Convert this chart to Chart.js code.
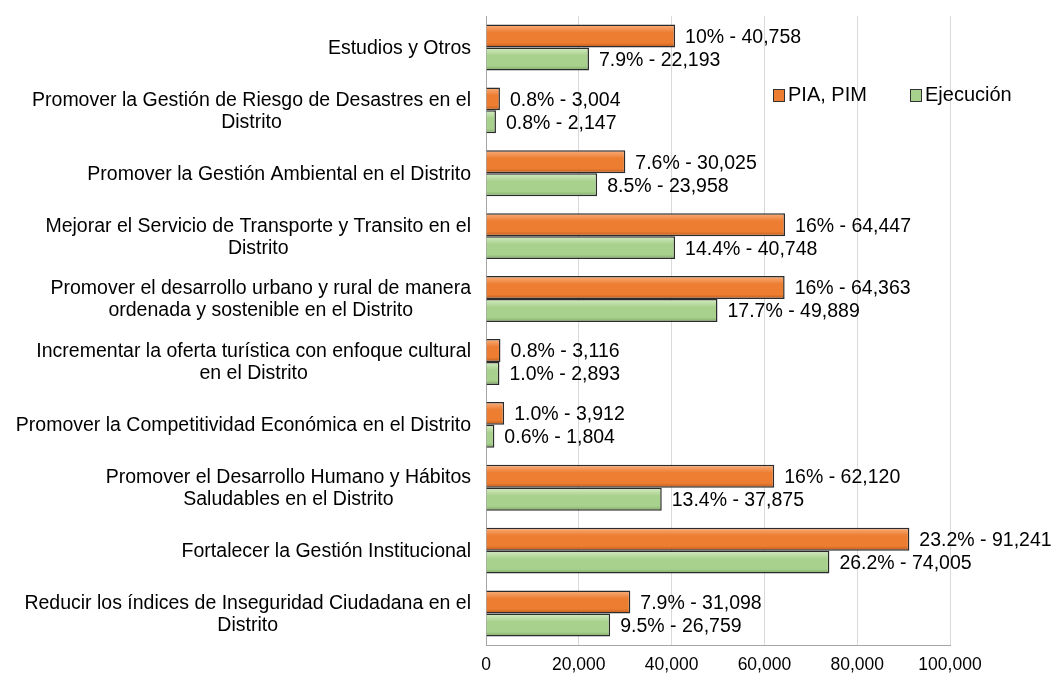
<!DOCTYPE html>
<html>
<head>
<meta charset="utf-8">
<script src="https://cdn.jsdelivr.net/npm/chart.js@4.4.1/dist/chart.umd.min.js"></script>
<style>
  body { margin: 0; background: #fff; }
  #wrap { width: 1052px; height: 675px; }
</style>
</head>
<body>
<div id="wrap"><canvas id="myChart"></canvas></div>
<script>
// Data
let categories = [
  'Estudios y Otros',
  ['Promover la Gestión de Riesgo de Desastres en el', 'Distrito'],
  'Promover la Gestión Ambiental en el Distrito',
  ['Mejorar el Servicio de Transporte y Transito en el', 'Distrito'],
  ['Promover el desarrollo urbano y rural de manera', 'ordenada y sostenible en el Distrito'],
  ['Incrementar la oferta turística con enfoque cultural', 'en el Distrito'],
  'Promover la Competitividad Económica en el Distrito',
  ['Promover el Desarrollo Humano y Hábitos', 'Saludables en el Distrito'],
  'Fortalecer la Gestión Institucional',
  ['Reducir los índices de Inseguridad Ciudadana en el', 'Distrito']
];
let piaValues = [40758, 3004, 30025, 64447, 64363, 3116, 3912, 62120, 91241, 31098];
let piaPct = ['10%', '0.8%', '7.6%', '16%', '16%', '0.8%', '1.0%', '16%', '23.2%', '7.9%'];
let ejeValues = [22193, 2147, 23958, 40748, 49889, 2893, 1804, 37875, 74005, 26759];
let ejePct = ['7.9%', '0.8%', '8.5%', '14.4%', '17.7%', '1.0%', '0.6%', '13.4%', '26.2%', '9.5%'];
let xTicks = [0, 20000, 40000, 60000, 80000, 100000];
let seriesNames = ['PIA, PIM', 'Ejecución'];

let FONT = 'Liberation Sans, Arial, sans-serif';

// bevel-ish vertical gradient per bar
function barFill(light, mid, dark) {
  return function(ctx) {
    let el = ctx.element;
    if (!el || el.y == null || isNaN(el.y) || !el.height) return mid;
    let c = ctx.chart.ctx;
    let top = el.y - el.height / 2, bot = el.y + el.height / 2;
    let g = c.createLinearGradient(0, top, 0, bot);
    g.addColorStop(0, light);
    g.addColorStop(0.35, mid);
    g.addColorStop(0.8, mid);
    g.addColorStop(1, dark);
    return g;
  };
}

let fmt = v => v.toLocaleString('en-US');

// category labels: block right aligned, lines centred inside the block (like Excel)
let catLabelPlugin = {
  id: 'catLabels',
  afterDraw(chart) {
    let c = chart.ctx;
    let y = chart.scales.y;
    let right = chart.chartArea.left - 15;
    c.save();
    c.font = '19.5px ' + FONT;
    c.fillStyle = '#000';
    c.textBaseline = 'middle';
    c.textAlign = 'center';
    chart.data.labels.forEach((lab, i) => {
      let lines = Array.isArray(lab) ? lab : [lab];
      let w = Math.max(...lines.map(l => c.measureText(l).width));
      let cy = y.getPixelForTick(i);
      lines.forEach((l, j) => {
        c.fillText(l, right - w / 2, cy + 1 + (j - (lines.length - 1) / 2) * 22);
      });
    });
    c.restore();
  }
};

// labels at the end of bars + legend inside plot
let labelPlugin = {
  id: 'barLabels',
  afterDatasetsDraw(chart) {
    let c = chart.ctx;
    c.save();
    c.font = '19.5px ' + FONT;
    c.fillStyle = '#000';
    c.textBaseline = 'middle';
    c.textAlign = 'left';
    let pcts = [piaPct, ejePct];
    chart.data.datasets.forEach((ds, di) => {
      chart.getDatasetMeta(di).data.forEach((bar, i) => {
        c.fillText(pcts[di][i] + ' - ' + fmt(ds.data[i]), bar.x + 10, bar.y + 1.5);
      });
    });
    // legend
    let items = [
      {x: 773, color: '#ED7D31', name: seriesNames[0]},
      {x: 910, color: '#A9D18E', name: seriesNames[1]}
    ];
    c.font = '20px ' + FONT;
    items.forEach(it => {
      c.fillStyle = it.color;
      c.fillRect(it.x, 89, 11, 12);
      c.strokeStyle = '#333';
      c.lineWidth = 1;
      c.strokeRect(it.x + 0.5, 89.5, 11, 12);
      c.fillStyle = '#000';
      c.fillText(it.name, it.x + 15, 95);
    });
    c.restore();
  }
};

let myChart = document.getElementById('myChart').getContext('2d');
let budgetChart = new Chart(myChart, {
  type: 'bar',
  data: {
    labels: categories,
    datasets: [{
      label: seriesNames[0],
      data: piaValues,
      backgroundColor: barFill('#F8B07E', '#ED7D31', '#B85A1C'),
      borderColor: '#2b2b2b',
      borderWidth: 1.5,
      categoryPercentage: 0.73,
      barPercentage: 1.0
    }, {
      label: seriesNames[1],
      data: ejeValues,
      backgroundColor: barFill('#D6EDC4', '#A9D18E', '#7DA463'),
      borderColor: '#2b2b2b',
      borderWidth: 1.5,
      categoryPercentage: 0.73,
      barPercentage: 1.0
    }]
  },
  options: {
    indexAxis: 'y',
    responsive: true,
    maintainAspectRatio: false,
    animation: false,
    layout: { padding: { top: 16, right: 102, bottom: 0, left: 0 } },
    plugins: {
      legend: { display: false },
      tooltip: { enabled: false }
    },
    scales: {
      x: {
        min: 0,
        max: 100000,
        afterBuildTicks: s => { s.ticks = xTicks.map(v => ({value: v})); },
        afterFit: s => { s.height = 30; s.paddingLeft = 0; s.paddingRight = 0; },
        grid: { color: '#d9d9d9', drawTicks: false },
        border: { display: true, color: '#a6a6a6' },
        ticks: {
          color: '#000',
          padding: 10,
          font: { family: FONT, size: 17.5 },
          callback: v => fmt(v)
        }
      },
      y: {
        afterFit: s => { s.width = 486; s.paddingTop = 0; s.paddingBottom = 0; },
        grid: { display: false, drawTicks: false },
        border: { display: true, color: '#a6a6a6' },
        ticks: { display: false }
      }
    }
  },
  plugins: [labelPlugin, catLabelPlugin]
});
// second pass so the gradients know the bar positions
budgetChart.update();
</script>
</body>
</html>
